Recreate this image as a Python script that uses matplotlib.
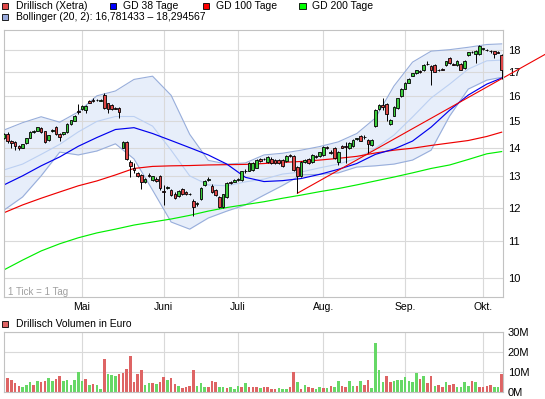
import numpy as np
import matplotlib
matplotlib.use("Agg")
import matplotlib.pyplot as plt
from matplotlib.patches import Rectangle
from matplotlib.ticker import FixedLocator, NullLocator, FixedFormatter

plt.rcParams['font.family'] = ['Liberation Sans', 'DejaVu Sans']

# ---------------- data (trading-day index 0 = 2 Apr) ----------------
open_ = [14.34,14.52,14.25,14.21,14.05,14.00,14.16,14.36,14.58,14.62,
         14.72,14.60,14.28,14.60,14.78,14.52,14.50,14.56,14.87,15.00,
         15.40,15.46,15.42,15.77,15.83,15.82,15.80,16.03,15.69,15.62,
         15.52,15.52,14.00,14.22,13.50,13.27,13.10,13.05,12.81,13.05,
         12.88,12.93,13.00,12.52,12.62,12.55,12.44,12.37,12.58,12.48,
         12.41,12.20,12.10,12.26,12.72,12.88,12.70,12.55,12.34,12.03,
         12.33,12.82,12.83,12.88,12.88,13.17,13.20,13.22,13.30,13.60,
         13.58,13.50,13.61,13.57,13.55,13.55,13.52,13.74,13.70,13.33,
         13.02,13.50,13.60,13.50,13.69,13.71,13.74,14.02,13.85,13.99,
         13.50,14.05,14.05,13.99,14.05,14.30,14.42,14.38,14.28,14.10,
         14.80,15.45,15.62,15.65,14.88,15.20,15.50,16.00,16.30,16.55,
         16.85,16.95,17.05,17.10,17.38,17.27,17.32,17.10,17.13,17.32,
         17.63,17.36,17.30,17.37,17.18,17.77,17.90,17.82,17.80,18.05,
         18.02,17.96,17.95,17.90,17.78]
high = [14.55,14.56,14.28,14.24,14.08,14.14,14.36,14.62,14.66,14.78,
        14.76,14.63,14.48,14.68,14.82,14.55,14.58,14.90,15.05,15.22,
        15.68,15.63,15.63,15.82,15.90,15.88,15.88,16.10,15.72,15.65,
        15.56,15.55,14.25,14.25,13.55,13.45,13.15,13.08,12.95,13.10,
        13.02,12.98,13.04,12.72,12.70,12.58,12.48,12.56,12.62,12.52,
        12.47,12.27,12.18,12.66,12.88,12.97,12.74,12.58,12.37,12.44,
        12.80,12.86,12.90,12.96,13.20,13.24,13.48,13.50,13.60,13.64,
        13.64,13.69,13.65,13.61,13.58,13.58,13.74,13.78,13.73,13.36,
        13.53,13.59,13.63,13.77,13.73,13.86,14.07,14.06,13.90,14.02,
        13.88,14.09,14.20,14.19,14.31,14.37,14.48,14.45,14.31,14.31,
        15.45,15.65,15.90,15.70,15.08,15.58,15.93,16.33,16.58,16.73,
        16.98,17.11,17.10,17.35,17.48,17.30,17.36,17.14,17.18,17.51,
        17.67,17.40,17.53,17.41,17.53,17.93,17.96,18.01,18.22,18.12,
        18.05,17.99,17.98,17.94,17.83]
low = [14.30,14.18,14.00,13.92,13.90,13.97,14.14,14.34,14.55,14.60,
       14.55,14.18,14.25,14.57,14.45,14.25,14.47,14.53,14.85,14.98,
       15.27,15.43,15.30,15.70,15.76,15.79,15.77,15.48,15.30,15.42,
       15.45,15.10,13.97,13.57,12.98,13.10,12.97,12.60,12.78,12.97,
       12.85,12.82,12.55,12.08,12.58,12.35,12.26,12.34,12.38,12.40,
       12.38,11.75,12.05,12.22,12.70,12.85,12.45,12.35,12.00,12.00,
       12.30,12.74,12.80,12.85,12.85,13.12,13.17,13.18,13.27,13.48,
       13.55,13.47,13.42,13.44,13.42,13.33,13.49,13.66,13.19,12.45,
       12.99,13.47,13.44,13.47,13.62,13.68,13.71,13.94,13.76,13.58,
       13.40,13.97,13.45,13.96,14.02,14.27,14.23,14.33,13.80,14.07,
       14.77,15.42,15.43,15.00,14.85,15.17,15.47,15.97,16.27,16.52,
       16.82,16.92,16.98,17.07,17.30,16.45,17.00,17.05,17.08,17.29,
       17.37,17.30,17.27,17.09,17.15,17.74,17.86,17.40,17.77,18.00,
       17.96,17.88,17.62,17.85,16.72]
close = [14.49,14.25,14.17,14.05,14.00,14.12,14.34,14.59,14.62,14.75,
         14.58,14.22,14.46,14.65,14.49,14.40,14.56,14.87,15.02,15.20,
         15.36,15.60,15.60,15.72,15.78,15.83,15.83,15.51,15.46,15.45,
         15.48,15.36,14.22,13.61,13.37,13.22,13.00,12.81,12.91,13.00,
         13.00,12.85,12.62,12.50,12.66,12.39,12.30,12.52,12.41,12.43,
         12.44,12.02,12.15,12.62,12.85,12.93,12.48,12.39,12.03,12.41,
         12.77,12.77,12.87,12.93,13.17,13.20,13.45,13.45,13.56,13.52,
         13.60,13.66,13.45,13.47,13.45,13.36,13.71,13.69,13.22,13.00,
         13.50,13.56,13.47,13.74,13.65,13.83,14.04,13.97,13.80,13.62,
         13.85,14.00,14.02,14.16,14.28,14.34,14.26,14.40,14.13,14.28,
         15.42,15.62,15.55,15.27,15.05,15.55,15.90,16.30,16.55,16.70,
         16.95,17.08,17.02,17.32,17.36,17.12,17.03,17.08,17.12,17.48,
         17.40,17.34,17.50,17.12,17.50,17.90,17.92,17.98,18.20,18.08,
         17.99,17.94,17.80,17.88,17.10]

# volume in million euro and direction (1 = up/green, 0 = down/red)
volume_m = [5.4,7.3,6.3,4.6,3.4,2.9,3.9,5.4,3.9,5.9,
            5.4,5.9,7.3,5.9,6.9,8.3,5.9,6.3,3.9,6.4,
            10.0,5.9,6.8,3.9,4.2,3.9,1.9,16.9,9.0,8.5,
            8.3,9.0,9.7,11.9,18.1,5.1,9.3,11.4,3.9,4.7,
            4.7,4.2,5.3,7.8,6.3,7.3,4.2,3.2,2.2,2.7,
            3.2,11.0,3.2,4.9,2.9,2.9,5.6,5.3,2.9,2.9,
            2.2,2.9,1.7,3.2,2.9,4.7,2.9,2.9,2.5,2.2,
            2.9,2.5,1.9,1.5,2.4,1.9,1.9,2.5,10.2,5.1,
            1.7,3.9,2.5,2.2,1.9,2.5,2.0,2.2,3.2,2.9,
            5.6,3.2,2.5,5.9,3.1,3.4,5.9,3.9,6.4,2.2,
            24.6,11.4,5.1,8.0,5.1,5.6,6.4,6.4,7.5,5.9,
            5.1,9.5,6.8,8.0,4.6,8.0,3.4,3.9,2.9,5.1,
            3.9,4.4,2.9,2.5,5.1,3.4,5.6,5.1,2.9,2.9,
            3.4,3.9,2.9,2.5,9.0]
volume_up = [1,0,0,0,0,1,1,1,0,1,
             0,0,1,1,0,0,1,1,1,1,
             1,1,0,1,0,1,1,0,1,1,
             1,0,0,0,0,0,0,0,1,1,
             0,1,0,0,1,0,0,1,0,0,
             0,0,1,1,1,0,0,0,1,1,
             0,1,1,1,0,1,0,0,0,1,
             0,0,0,0,1,1,1,0,0,1,
             0,1,0,0,1,1,0,1,0,1,
             1,0,0,1,1,0,1,0,0,1,
             1,1,1,0,0,1,1,1,1,1,
             1,1,0,1,0,0,1,0,0,1,
             0,0,1,1,1,1,0,1,0,0,
             0,0,1,1,0]

# indicator lines, read every 5 trading days
ind_idx = [0,5,10,15,20,25,30,35,40,45,50,55,60,65,70,75,80,85,90,95,
           100,105,110,115,120,125,130,134]
gd38 = [12.72,13.02,13.36,13.67,14.05,14.37,14.67,14.74,14.52,14.26,
        14.00,13.74,13.42,12.97,12.83,12.86,12.93,13.07,13.24,13.44,
        13.76,13.95,14.24,14.76,15.42,16.03,16.49,16.75]
gd100 = [11.84,12.08,12.29,12.49,12.69,12.85,13.05,13.27,13.34,13.36,
         13.37,13.39,13.40,13.41,13.44,13.48,13.51,13.56,13.62,13.69,
         13.81,13.91,13.98,14.08,14.17,14.26,14.41,14.57]
gd200 = [10.22,10.48,10.73,10.93,11.10,11.24,11.35,11.47,11.56,11.65,
         11.76,11.89,12.00,12.09,12.18,12.29,12.39,12.50,12.60,12.72,
         12.85,12.98,13.12,13.27,13.39,13.58,13.78,13.86]
boll_upper = [14.65,14.93,15.16,14.95,15.35,16.00,16.20,16.69,16.83,16.02,
              14.49,13.55,13.42,13.46,13.74,13.80,13.91,14.04,14.21,14.52,
              15.11,16.41,17.45,17.95,18.02,18.13,18.26,18.29]
boll_mid = [13.22,13.42,13.76,14.12,14.58,14.98,15.17,15.17,14.80,13.91,
            13.02,12.72,12.69,12.82,12.91,13.08,13.15,13.29,13.42,13.62,
            13.98,14.46,15.15,15.91,16.49,17.14,17.51,17.54]
boll_lower = [11.92,12.33,13.02,13.84,13.74,13.88,14.14,13.60,12.55,11.56,
              11.35,11.68,11.89,12.08,12.39,12.70,13.05,13.07,13.12,13.32,
              13.36,13.42,13.56,13.91,15.19,16.28,16.66,16.78]

# trend line anchors (index, price)
trend_idx = [79, 134]
trend_val = [12.45, 16.72]

month_idx = [21, 43, 63, 86, 108, 129]
month_labels = ['Mai', 'Juni', 'Juli', 'Aug.', 'Sep.', 'Okt.']
price_ticks = [10, 11, 12, 13, 14, 15, 16, 17, 18]
vol_ticks = [0, 10, 20, 30]
vol_labels = ['0M', '10M', '20M', '30M']

# ---------------- layout ----------------
W, H = 545, 399
fig = plt.figure(figsize=(W / 100, H / 100), dpi=100)
fig.patch.set_facecolor('white')

def fx(px):
    return px / W

def fy(py):
    return 1 - py / H

L_PX, R_PX = 3.5, 503.0
ax = fig.add_axes([fx(L_PX), fy(297), fx(R_PX) - fx(L_PX), fy(29.5) - fy(297)])
axv = fig.add_axes([fx(L_PX), fy(392.3), fx(R_PX) - fx(L_PX), fy(332.3) - fy(392.3)])

GRID = '#d9d9d9'
SPINE = '#c2c2c2'
xlim = (-0.135, 134.36)

x = np.arange(len(close))
o = np.array(open_); c = np.array(close)
h = np.array(high); l = np.array(low)

# ---- price panel ----
ax.set_yscale('log')
ax.set_xlim(*xlim)
ax.set_ylim(9.53, 18.98)
ax.set_axisbelow(True)

ax.fill_between(ind_idx, boll_lower, boll_upper, color='#e7eefa', lw=0, zorder=0.2)
ax.plot(ind_idx, boll_upper, color='#98aedb', lw=0.8, zorder=1.5)
ax.plot(ind_idx, boll_lower, color='#98aedb', lw=0.8, zorder=1.5)
ax.plot(ind_idx, boll_mid, color='#bcd0f2', lw=0.8, zorder=1.5)

ax.plot(ind_idx, gd200, color='#00ee00', lw=0.85, zorder=2)
ax.plot(ind_idx, gd100, color='#ee0000', lw=0.85, zorder=2)
ax.plot(ind_idx, gd38, color='#0000ee', lw=0.85, zorder=2)

# trend line (log-linear through the two anchors, extended to the image edge)
slope = (np.log(trend_val[1]) - np.log(trend_val[0])) / (trend_idx[1] - trend_idx[0])
t_end = (W - 4) / 3.714
t_x = np.array([trend_idx[0], t_end])
t_y = np.exp(np.log(trend_val[0]) + slope * (t_x - trend_idx[0]))
ax.plot(t_x, t_y, color='#ee0000', lw=0.8, zorder=2.1, clip_on=False)

# candles
up = c >= o
ax.vlines(x, l, h, color='black', lw=0.7, zorder=3)
ax.bar(x, np.abs(c - o), bottom=np.minimum(o, c), width=0.72,
       color=np.where(up, '#3ccc3c', '#e04848'), edgecolor='black',
       linewidth=0.6, zorder=4)

ax.yaxis.set_major_locator(FixedLocator(price_ticks))
ax.yaxis.set_major_formatter(FixedFormatter([str(t) for t in price_ticks]))
ax.yaxis.set_minor_locator(NullLocator())
ax.yaxis.tick_right()
ax.xaxis.set_major_locator(FixedLocator(month_idx))
ax.xaxis.set_major_formatter(FixedFormatter(month_labels))
ax.tick_params(axis='y', length=0, pad=3.5, labelsize=8)
ax.tick_params(axis='x', length=0, pad=3.5, labelsize=7.5)
ax.grid(True, color=GRID, lw=0.8)
for s in ax.spines.values():
    s.set_color(SPINE)
    s.set_linewidth(0.8)

fig.text(fx(8.5), fy(291.6), '1 Tick = 1 Tag', color='#a0a0a0', fontsize=7, va='center', ha='left')

# ---- volume panel ----
vu = np.array(volume_up).astype(bool)
axv.bar(x, volume_m, width=0.7, color=np.where(vu, '#66d866', '#de6464'), lw=0, zorder=2)
axv.set_xlim(*xlim)
axv.set_ylim(0, 30)
axv.set_axisbelow(True)
axv.yaxis.tick_right()
axv.set_yticks(vol_ticks)
axv.set_yticklabels(vol_labels)
axv.set_xticks(month_idx)
axv.set_xticklabels([])
axv.tick_params(axis='y', length=0, pad=3.5, labelsize=8)
axv.tick_params(axis='x', length=0)
axv.grid(True, color=GRID, lw=0.8)
for s in axv.spines.values():
    s.set_color(SPINE)
    s.set_linewidth(0.8)

# ---- legends ----
def legend_box(px, py, color, size=6.5):
    fig.patches.append(Rectangle((fx(px), fy(py + size / 2)), size / W, size / H,
                                 transform=fig.transFigure, facecolor=color,
                                 edgecolor='black', lw=0.6))

FS = 7.5
legend_box(1.5, 6, '#e04848')
fig.text(fx(16), fy(6), 'Drillisch (Xetra)', fontsize=FS, va='center')
legend_box(109.5, 6, '#0000ff')
fig.text(fx(123), fy(6), 'GD 38 Tage', fontsize=FS, va='center')
legend_box(202.5, 6, '#ff0000')
fig.text(fx(215.5), fy(6), 'GD 100 Tage', fontsize=FS, va='center')
legend_box(299, 6, '#00ff00')
fig.text(fx(312), fy(6), 'GD 200 Tage', fontsize=FS, va='center')
legend_box(1.5, 17, '#99aadd')
fig.text(fx(16), fy(17), 'Bollinger (20, 2): 16,781433 \u2013 18,294567', fontsize=FS, va='center')
legend_box(1.5, 324, '#de6464')
fig.text(fx(16), fy(324), 'Drillisch Volumen in Euro', fontsize=FS, va='center')

fig.savefig('out.png', dpi=100)
